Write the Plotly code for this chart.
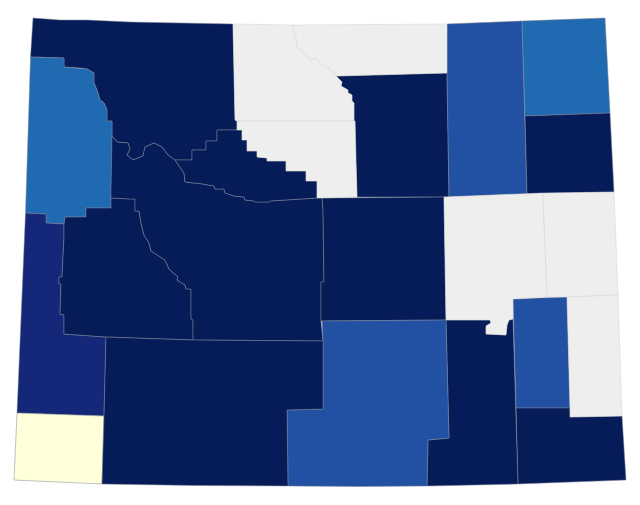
import plotly.graph_objects as go
from plotly.colors import sample_colorscale

# Counties with a value, and the counties drawn as no data
counties = ["Park", "Teton", "Lincoln", "Uinta", "Sublette", "Fremont", "Hot Springs", "Johnson",
            "Campbell", "Crook", "Weston", "Natrona", "Platte", "Laramie", "Albany", "Carbon", "Sweetwater"]
values = [100, 60, 88, 0, 100, 100, 100, 100, 72, 60, 100, 100, 72, 100, 100, 72, 100]
no_data_counties = ["Big Horn", "Sheridan", "Washakie", "Converse", "Niobrara", "Goshen"]

color_stops = [[0, "#ffffd9"], [0.6, "#1f6ab0"], [0.72, "#2251a3"], [0.88, "#142778"], [1, "#061c58"]]

# Shared borders (x, y as seen on the page)
park_river = [(112, 136), (117, 142), (128, 143), (130, 149), (127, 155), (133, 160), (143, 156), (145, 147),
              (154, 143), (162, 147), (168, 155), (175, 160)]
hot_springs_south = [(175, 160), (184, 173), (185, 182), (203, 184), (214, 186), (215, 189), (224, 189), (225, 193),
                     (234, 196), (244, 197), (245, 200), (254, 201), (255, 202), (269, 202), (270, 201), (317, 198)]
park_hot_springs = [(175, 160), (192, 160), (192, 150), (206, 150), (206, 141), (217, 141), (217, 130), (237, 130)]
washakie_stairs = [(237, 130), (242, 130), (242, 140), (247, 140), (247, 151), (257, 151), (257, 157), (267, 158),
                   (267, 161), (286, 161), (286, 171), (306, 171), (306, 181), (317, 181), (317, 198)]
teton_east = [(30.5, 57), (64, 58), (64, 67), (80, 68), (87, 69), (94, 73), (94, 83), (97, 90), (100, 100), (104, 103),
              (107, 110), (107, 121), (112, 121), (112, 136)]
teton_south = [(111, 198), (111, 208), (86, 208), (86, 217), (65, 217), (64, 224)]
lincoln_east = [(64, 224), (64, 237), (62, 277), (59, 277), (59, 284), (61, 284), (60, 314), (64, 315), (64, 334),
                (92, 336), (106, 337)]
green_river = [(111, 198), (130, 199), (135, 199), (135, 211), (139, 211), (141, 223), (144, 235), (149, 243),
               (151, 251), (165, 260), (169, 269), (178, 277), (177, 280), (185, 285), (186, 289), (191, 289),
               (191, 319), (193, 320), (193, 340)]
sheridan_west = [(293, 25), (294, 32), (296, 37), (297, 47), (305, 54), (310, 60), (316, 58), (323, 66), (330, 69),
                 (336, 76)]
johnson_west = [(336, 76), (342, 82), (341, 86), (348, 90), (348, 93), (352, 95), (352, 101), (354, 103), (354, 121),
                (355, 121), (356, 162), (357, 197)]
natrona_west = [(322, 198), (323, 210), (324, 282), (321, 282), (321, 321)]
albany_north = [(446, 320), (470, 320), (490, 320), (491, 323), (486, 326), (486, 334), (506, 335), (507, 325),
                (509, 320), (513, 319)]


def rev(points):
    return points[::-1]


outlines = {
    "Park": [(33, 18), (60, 20), (87, 20), (130, 22), (233, 24), (235, 120), (237, 121)] + rev(park_hot_springs)
            + rev(park_river) + rev(teton_east),
    "Teton": teton_east + [(111, 190)] + teton_south + [(46, 223), (46, 214), (25.5, 213)],
    "Lincoln": [(25.5, 213), (46, 214), (46, 223)] + lincoln_east + [(104, 416), (17, 413)],
    "Uinta": [(17, 413), (104, 416), (102, 484), (14, 480)],
    "Sublette": green_river + [(106, 337)] + rev(lincoln_east)[1:] + rev(teton_south),
    "Fremont": park_river + hot_springs_south + natrona_west + [(323, 341), (193, 340)] + rev(green_river)[1:]
               + [(111, 190)],
    "Hot Springs": park_hot_springs + washakie_stairs + rev(hot_springs_south),
    "Big Horn": [(233, 24)] + sheridan_west + johnson_west[:9] + [(237, 121), (235, 120)],
    "Sheridan": [(293, 25), (447, 24), (447, 73)] + rev(sheridan_west),
    "Washakie": [(237, 121), (355, 121), (356, 162), (357, 197), (317, 198)] + rev(washakie_stairs),
    "Johnson": [(336, 76), (447, 73), (449, 197)] + rev(johnson_west),
    "Campbell": [(447, 24), (522, 21), (527, 194), (449, 197), (447, 73)],
    "Crook": [(522, 21), (605, 18), (610, 113), (525, 116)],
    "Weston": [(525, 116), (610, 113), (614, 192), (527, 194)],
    "Natrona": [(322, 198), (444, 197), (446, 320), (321, 321)] + rev(natrona_west)[1:],
    "Converse": [(444, 197), (543, 193), (547, 297), (513, 299), (513, 319)] + rev(albany_north)[1:],
    "Niobrara": [(543, 193), (614, 192), (618, 295), (567, 297), (547, 297)],
    "Platte": [(513, 299), (567, 297), (570, 408), (516, 408)],
    "Goshen": [(567, 297), (618, 295), (622, 416), (570, 417), (570, 408)],
    "Laramie": [(516, 408), (570, 408), (570, 417), (622, 416), (626, 480), (575, 482), (518, 484)],
    "Albany": albany_north + [(516, 408), (518, 484), (475, 485), (427, 486), (428, 440), (449, 438)],
    "Carbon": [(322, 321), (446, 320), (449, 438), (428, 440), (427, 486), (360, 486.5), (288, 486), (287, 410),
               (323, 409), (323, 341)],
    "Sweetwater": [(106, 337), (193, 340), (323, 341), (323, 409), (287, 410), (288, 486), (195, 485.5), (102, 484),
                   (104, 416)],
}


def add_county(fig, name, color, line_color):
    ring = outlines[name] + outlines[name][:1]
    fig.add_trace(go.Scatter(x=[p[0] for p in ring], y=[p[1] for p in ring], mode="lines", fill="toself",
                             fillcolor=color, line=dict(color=line_color, width=0.5), name=name,
                             hoveron="fills", showlegend=False))


fig = go.Figure()
for name, value in zip(counties, values):
    add_county(fig, name, sample_colorscale(color_stops, value / 100)[0], "#7d8596")
for name in no_data_counties:
    add_county(fig, name, "#eeeeee", "#d2d2d2")

fig.update_xaxes(visible=False, range=[0, 640])
fig.update_yaxes(visible=False, range=[505, 0])
fig.update_layout(width=640, height=505, margin=dict(l=0, r=0, t=0, b=0),
                  paper_bgcolor="white", plot_bgcolor="white")
# the page's default body margin would push the map 8px down and right
fig.write_html("out.html", config={"displayModeBar": False}, post_script="document.body.style.margin = '0';")
